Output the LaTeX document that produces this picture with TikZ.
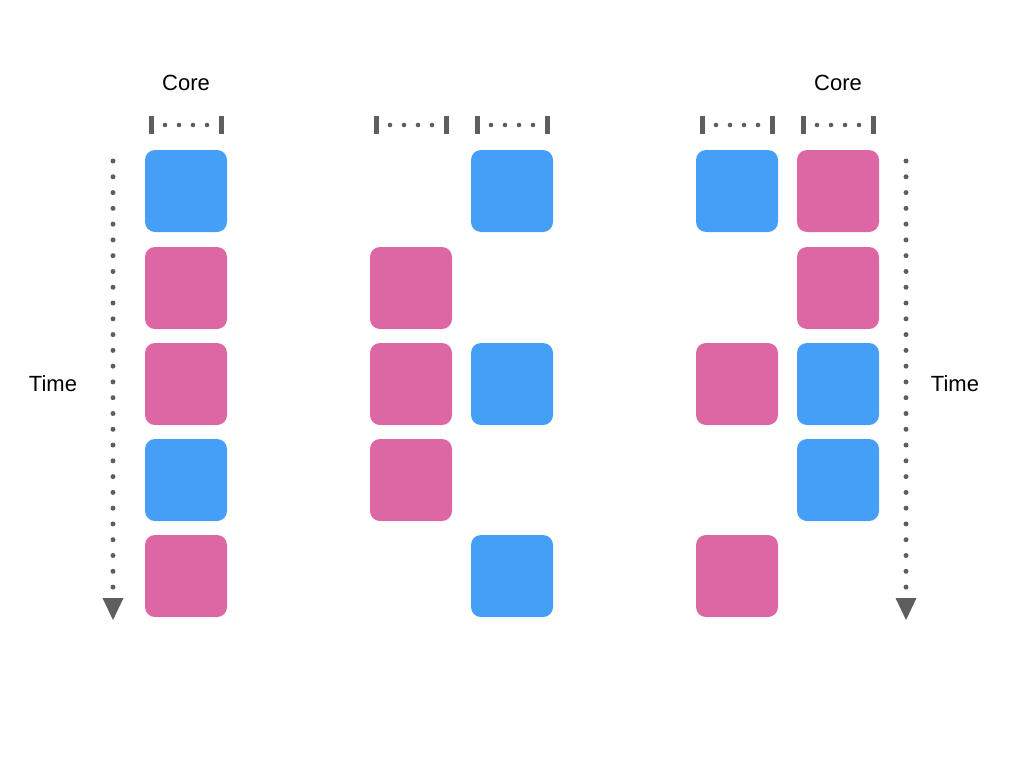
\documentclass[tikz,border=0pt]{standalone}
\usepackage{fontspec}
\setmainfont{Liberation Sans}
\usetikzlibrary{arrows.meta}
\definecolor{coreblue}{HTML}{459FF7}
\definecolor{corepink}{HTML}{DD67A4}
\definecolor{coregray}{HTML}{5E5E5E}

\begin{document}
\begin{tikzpicture}[x=1pt,y=-1pt,
    task/.style={rounded corners=10pt, minimum size=82pt, inner sep=0pt},
    bluetask/.style={task, fill=coreblue},
    pinktask/.style={task, fill=corepink},
    txt/.style={font=\fontsize{22}{26}\selectfont, text=black},
    timeline/.style={coregray, line width=5pt, line cap=round, dash pattern=on 0pt off 15.78pt,
        -{Triangle[width=21pt,length=22pt,line width=0pt]}}]
        \useasboundingbox (0,0) rectangle (1024,768);

        \coordinate (TimeTopL) at (113, 161);
        \coordinate (TimeEndL) at (113, 620);
        \coordinate (TimeTopR) at (906, 161);
        \coordinate (TimeEndR) at (906, 620);

        % Labels
        \node[txt] (CoreL) at (186, 83) {Core};
        \node[txt] (CoreR) at (838, 83) {Core};
        \node[txt] (TimeL) at (53, 384) {Time};
        \node[txt] (TimeR) at (955, 384) {Time};

        % Core brackets
        \foreach \cx in {186, 411, 512, 737, 838} {
            \draw[coregray, line width=5pt] (\cx-35, 116) -- (\cx-35, 134);
            \draw[coregray, line width=5pt] (\cx+35, 116) -- (\cx+35, 134);
            \foreach \dx in {-21, -7, 7, 21}
                \fill[coregray] (\cx+\dx, 125) circle (2.3pt);
        }

        % Single core
        \node[bluetask] (a1) at (186, 191) {};
        \node[pinktask] (a2) at (186, 288) {};
        \node[pinktask] (a3) at (186, 384) {};
        \node[bluetask] (a4) at (186, 480) {};
        \node[pinktask] (a5) at (186, 576) {};

        % Two cores, one kind each
        \node[pinktask] (b2) at (411, 288) {};
        \node[pinktask] (b3) at (411, 384) {};
        \node[pinktask] (b4) at (411, 480) {};
        \node[bluetask] (c1) at (512, 191) {};
        \node[bluetask] (c3) at (512, 384) {};
        \node[bluetask] (c5) at (512, 576) {};

        % Two cores, mixed
        \node[bluetask] (d1) at (737, 191) {};
        \node[pinktask] (d3) at (737, 384) {};
        \node[pinktask] (d5) at (737, 576) {};
        \node[pinktask] (e1) at (838, 191) {};
        \node[pinktask] (e2) at (838, 288) {};
        \node[bluetask] (e3) at (838, 384) {};
        \node[bluetask] (e4) at (838, 480) {};

        % Time arrows
        \draw[timeline] (TimeTopL) -- (TimeEndL);
        \draw[timeline] (TimeTopR) -- (TimeEndR);
    \end{tikzpicture}
\end{document}
